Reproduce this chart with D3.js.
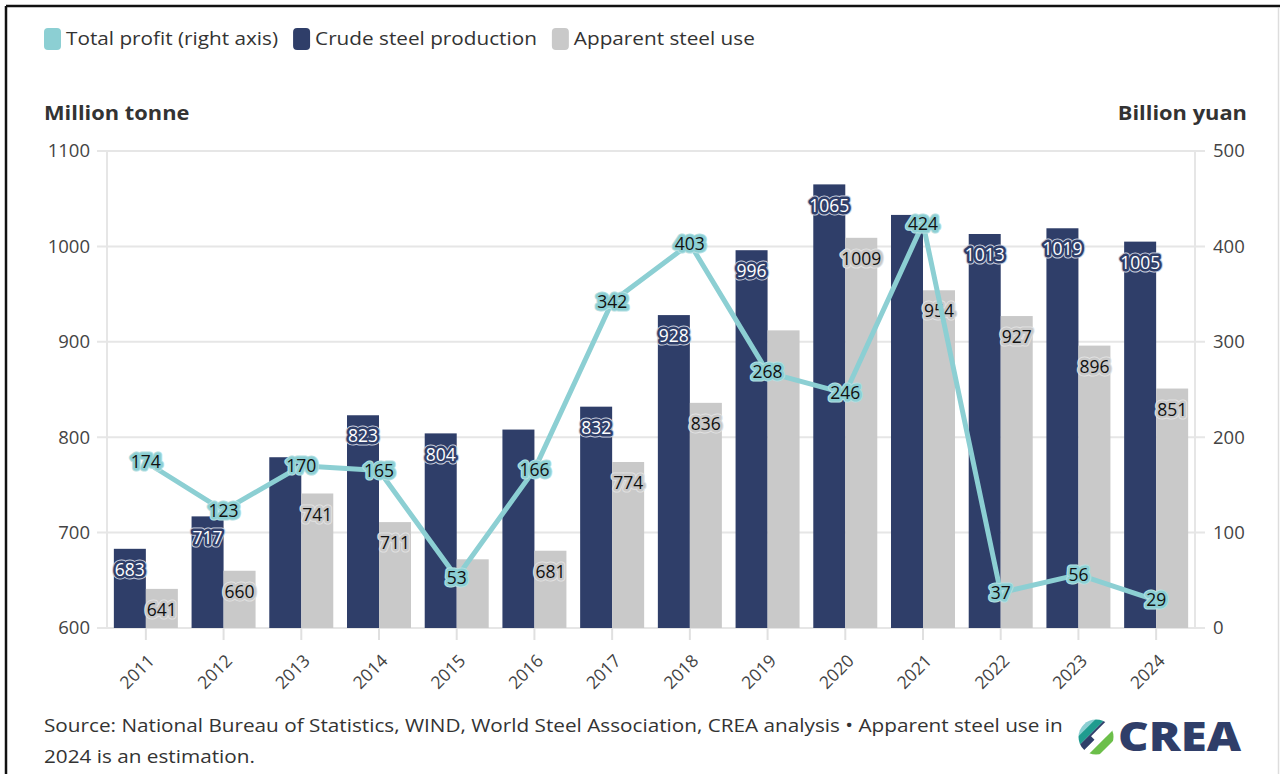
<!DOCTYPE html>
<html>
<head>
<meta charset="utf-8">
<script src="https://cdn.jsdelivr.net/npm/d3@7"></script>
<style>
  html, body { margin: 0; padding: 0; background: #fff; }
  svg { display: block; font-family: "Open Sans", Lato, sans-serif; }
</style>
</head>
<body>
<svg id="chart" width="1280" height="774"></svg>
<script>
// China steel: output, apparent use and industry profit
const years = ["2011","2012","2013","2014","2015","2016","2017","2018","2019","2020","2021","2022","2023","2024"];
const crudeSteel = [683, 717, 779, 823, 804, 808, 832, 928, 996, 1065, 1033, 1013, 1019, 1005];
const apparentUse = [641, 660, 741, 711, 672, 681, 774, 836, 912, 1009, 954, 927, 896, 851];
const totalProfit = [174, 123, 170, 165, 53, 166, 342, 403, 268, 246, 424, 37, 56, 29];
const leftTicks = [600, 700, 800, 900, 1000, 1100];
const rightTicks = [0, 100, 200, 300, 400, 500];
const legendItems = [
  { label: "Total profit (right axis)", color: "#8ccfd3" },
  { label: "Crude steel production", color: "#2f3e69" },
  { label: "Apparent steel use", color: "#c9c9c9" }
];

const NAVY = "#2f3e69", GREY = "#c9c9c9", TEAL = "#8ccfd3", TXT = "#444";
const FONT = "'Open Sans', Lato, sans-serif";
const WIDEN = 1.12; // the typeface used is set a little wider than Open Sans
const svg = d3.select("#chart");

function widen(t) {
  const w = t.node().getComputedTextLength();
  t.attr("textLength", w * WIDEN).attr("lengthAdjust", "spacingAndGlyphs");
  return t;
}

// frame
svg.append("line").attr("x1", 6).attr("x2", 1280).attr("y1", 6).attr("y2", 6)
  .attr("stroke", "#111").attr("stroke-width", 2.5);
svg.append("line").attr("x1", 6).attr("x2", 6).attr("y1", 6).attr("y2", 774)
  .attr("stroke", "#111").attr("stroke-width", 2.5);
svg.append("line").attr("x1", 1278.5).attr("x2", 1278.5).attr("y1", 8).attr("y2", 774)
  .attr("stroke", "#ddd").attr("stroke-width", 1.5);

const plot = { left: 107, right: 1195, top: 151, bottom: 628 };

const x = d3.scaleBand().domain(years).range([plot.left, plot.right]).padding(0);
const yL = d3.scaleLinear().domain([600, 1100]).range([plot.bottom, plot.top]);
const yR = d3.scaleLinear().domain([0, 500]).range([plot.bottom, plot.top]);
const cx = d => x(d) + x.bandwidth() / 2;
const barW = 32;

// legend
const legend = svg.append("g").attr("transform", "translate(44,39)");
let lx = 0;
legendItems.forEach(item => {
  const g = legend.append("g").attr("transform", `translate(${lx},0)`);
  g.append("rect").attr("x", 0).attr("y", -11).attr("width", 17).attr("height", 22)
    .attr("rx", 4).attr("fill", item.color);
  const t = widen(g.append("text").attr("x", 22).attr("dy", "0.35em")
    .attr("font-size", 18.5).attr("fill", "#333").text(item.label));
  lx += 22 + (+t.attr("textLength")) + 15;
});

// axis titles
widen(svg.append("text").attr("x", 44).attr("y", 120).attr("font-size", 19.5)
  .attr("font-weight", 700).attr("fill", "#333").text("Million tonne"));
widen(svg.append("text").attr("x", 1247).attr("y", 120).attr("font-size", 19.5)
  .attr("text-anchor", "end").attr("font-weight", 700).attr("fill", "#333").text("Billion yuan"));

// grid
svg.append("g").selectAll("line").data(leftTicks).join("line")
  .attr("x1", plot.left - 10).attr("x2", plot.right + 10)
  .attr("y1", d => yL(d)).attr("y2", d => yL(d))
  .attr("stroke", "#e6e6e6").attr("stroke-width", 2);
[plot.left, plot.right].forEach(px => {
  svg.append("line").attr("x1", px).attr("x2", px).attr("y1", plot.top).attr("y2", plot.bottom)
    .attr("stroke", "#e6e6e6").attr("stroke-width", 2);
});

// axes
const fmt = d3.format("d");
const axisL = svg.append("g").attr("transform", `translate(${plot.left},0)`)
  .call(d3.axisLeft(yL).tickValues(leftTicks).tickFormat(fmt).tickSize(0).tickPadding(17));
const axisR = svg.append("g").attr("transform", `translate(${plot.right},0)`)
  .call(d3.axisRight(yR).tickValues(rightTicks).tickFormat(fmt).tickSize(0).tickPadding(18));
const axisB = svg.append("g").attr("transform", `translate(0,${plot.bottom})`)
  .call(d3.axisBottom(x).tickSize(12).tickPadding(0));
[axisL, axisR, axisB].forEach(a => {
  a.select(".domain").remove();
  a.selectAll("text").attr("font-size", 18.5).attr("fill", TXT).attr("font-family", FONT);
});
axisB.selectAll(".tick line").attr("stroke", "#e0e0e0").attr("stroke-width", 2);
axisB.selectAll("text").attr("font-size", 17.5)
  .attr("text-anchor", "end").attr("dy", "0.35em")
  .attr("transform", "translate(-3,21) rotate(-45)");

// bars
svg.append("g").selectAll("rect").data(years).join("rect")
  .attr("x", (d) => cx(d) - barW).attr("width", barW)
  .attr("y", (d, i) => yL(crudeSteel[i])).attr("height", (d, i) => plot.bottom - yL(crudeSteel[i]))
  .attr("fill", NAVY);
svg.append("g").selectAll("rect").data(years).join("rect")
  .attr("x", (d) => cx(d)).attr("width", barW)
  .attr("y", (d, i) => yL(apparentUse[i])).attr("height", (d, i) => plot.bottom - yL(apparentUse[i]))
  .attr("fill", GREY);

// value labels with a halo
const LABEL_SIZE = 17.5;
function haloLabel(g, px, py, text, fill, halo, outer) {
  const node = g.append("g").attr("class", "lbl").datum({ cy: py });
  if (outer) {
    node.append("text").attr("x", px).attr("y", py).attr("dy", "0.35em")
      .attr("text-anchor", "middle").attr("font-size", LABEL_SIZE)
      .attr("stroke", outer).attr("stroke-width", 7).attr("stroke-linejoin", "round")
      .attr("fill", outer).text(text);
  }
  node.append("text").attr("x", px).attr("y", py).attr("dy", "0.35em")
    .attr("text-anchor", "middle").attr("font-size", LABEL_SIZE)
    .attr("stroke", halo).attr("stroke-width", 5).attr("stroke-linejoin", "round")
    .attr("fill", halo).text(text);
  node.append("text").attr("x", px).attr("y", py).attr("dy", "0.35em")
    .attr("text-anchor", "middle").attr("font-size", LABEL_SIZE)
    .attr("fill", fill).text(text);
  return node;
}

const barLabels = svg.append("g");
const barLabelNodes = [];
years.forEach((yr, i) => {
  barLabelNodes.push(haloLabel(barLabels, cx(yr) - barW / 2, yL(crudeSteel[i]) + 21,
    crudeSteel[i], "#fff", NAVY, "#c9cede"));
  barLabelNodes.push(haloLabel(barLabels, cx(yr) + barW / 2, yL(apparentUse[i]) + 21,
    apparentUse[i], "#111", GREY, "#e2e2e2"));
});

// profit line
const line = d3.line().x(d => cx(d.year)).y(d => yR(d.value));
const profitData = years.map((yr, i) => ({ year: yr, value: totalProfit[i] }));
svg.append("path").datum(profitData).attr("d", line)
  .attr("fill", "none").attr("stroke", TEAL).attr("stroke-width", 5)
  .attr("stroke-linejoin", "round");

const lineLabels = svg.append("g");
const lineLabelNodes = profitData.map(d =>
  haloLabel(lineLabels, cx(d.year), yR(d.value), d.value, "#111", TEAL, "#b5e0e2"));

// hide bar labels that collide with profit labels (boxes of 1.2em around the label centre)
const pad = 1, halfH = LABEL_SIZE * 0.6;
function labelBox(n) {
  const b = n.node().getBBox();
  const cy = n.datum().cy;
  return { x0: b.x - pad, x1: b.x + b.width + pad, y0: cy - halfH - pad, y1: cy + halfH + pad };
}
const boxes = lineLabelNodes.map(labelBox);
barLabelNodes.forEach(n => {
  const b = labelBox(n);
  const hit = boxes.some(o => b.x0 < o.x1 && b.x1 > o.x0 && b.y0 < o.y1 && b.y1 > o.y0);
  if (hit) n.remove();
});

// footer
widen(svg.append("text").attr("x", 44).attr("y", 732).attr("font-size", 18.5).attr("fill", "#333")
  .text("Source: National Bureau of Statistics, WIND, World Steel Association, CREA analysis \u2022 Apparent steel use in"));
widen(svg.append("text").attr("x", 44).attr("y", 763).attr("font-size", 18.5).attr("fill", "#333")
  .text("2024 is an estimation."));

// logo
const logo = svg.append("g").attr("transform", "translate(1096,737)");
logo.append("defs").append("clipPath").attr("id", "logoClip")
  .append("circle").attr("r", 17.5);
const stripes = logo.append("g").attr("clip-path", "url(#logoClip)")
  .append("g").attr("transform", "rotate(-45)");
[
  { x: -22, w: 9, c: "#8ccfd3" },
  { x: -13, w: 7, c: "#1f9c8f" },
  { x: -6, w: 7, c: NAVY },
  { x: 1, w: 6, c: "#fff" },
  { x: 7, w: 8, c: "#6cbf4a" },
  { x: 15, w: 8, c: "#fff" }
].forEach(s => {
  stripes.append("rect").attr("x", -25).attr("width", 50).attr("y", s.x).attr("height", s.w).attr("fill", s.c);
});
logo.append("rect").attr("x", -3).attr("y", -4).attr("width", 24).attr("height", 8).attr("fill", "#fff")
  .attr("transform", "rotate(-45)");
svg.append("text").attr("x", 1118).attr("y", 751).attr("font-size", 40).attr("font-weight", 800)
  .attr("fill", NAVY).attr("textLength", 123).attr("lengthAdjust", "spacingAndGlyphs").text("CREA");
</script>
</body>
</html>
